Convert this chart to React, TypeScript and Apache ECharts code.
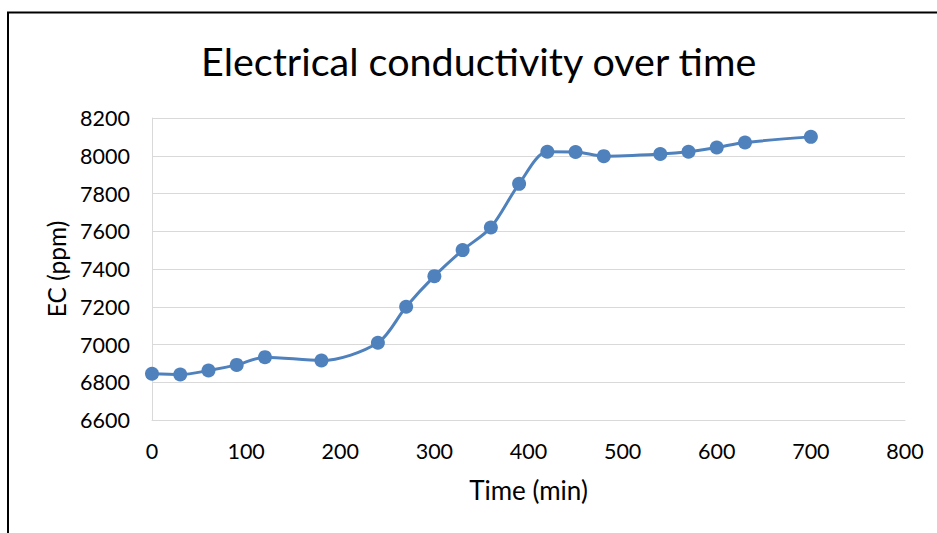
import React, { useEffect, useRef } from "react";
import * as echarts from "echarts";

const timeMin = [0, 30, 60, 90, 120, 180, 240, 270, 300, 330, 360, 390, 420, 450, 480, 540, 570, 600, 630, 700];
const ecPpm = [6845, 6841, 6862, 6892, 6933, 6915, 7009, 7200, 7362, 7500, 7620, 7851, 8021, 8020, 7998, 8009, 8021, 8044, 8070, 8100];

const titleText = "Electrical conductivity over time";
const xName = "Time (min)";
const yName = "EC (ppm)";

export default function App() {
  const ref = useRef<HTMLDivElement>(null);
  useEffect(() => {
    if (!ref.current) return;
    const chart = echarts.init(ref.current, null, { renderer: "svg" });
    const font = "Lato, 'Open Sans', sans-serif";
    chart.setOption({
      animation: false,
      backgroundColor: "#ffffff",
      textStyle: { fontFamily: font },
      title: {
        text: titleText,
        left: 196,
        top: 35,
        textStyle: { fontFamily: font, fontSize: 39.5, fontWeight: "normal", color: "#000" },
      },
      graphic: [
        {
          type: "rect",
          shape: { x: 8, y: 12.5, width: 960, height: 560 },
          style: { fill: "none", stroke: "#000", lineWidth: 2 },
          silent: true,
        },
      ],
      grid: { left: 152, top: 118, right: 32, bottom: 113, containLabel: false },
      xAxis: {
        type: "value",
        min: 0,
        max: 800,
        interval: 100,
        name: xName,
        nameLocation: "middle",
        nameGap: 57,
        nameTextStyle: { fontFamily: font, fontSize: 26, color: "#000" },
        axisLine: { show: true, lineStyle: { color: "#d9d9d9", width: 1 } },
        axisTick: { show: false },
        axisLabel: { fontFamily: font, fontSize: 21.5, color: "#000", margin: 20, formatter: (v: number) => String(v) },
        splitLine: { show: false },
      },
      yAxis: {
        type: "value",
        min: 6600,
        max: 8200,
        interval: 200,
        name: yName,
        nameLocation: "middle",
        nameGap: 80,
        nameRotate: 90,
        nameTextStyle: { fontFamily: font, fontSize: 24.5, color: "#000" },
        axisLine: { show: true, lineStyle: { color: "#d9d9d9", width: 1 } },
        axisTick: { show: false },
        axisLabel: { fontFamily: font, fontSize: 21.5, color: "#000", margin: 22, formatter: (v: number) => String(v) },
        splitLine: { show: true, lineStyle: { color: "#d9d9d9", width: 1 } },
      },
      series: [
        {
          type: "line",
          data: timeMin.map((t, i) => [t, ecPpm[i]]),
          smooth: 0.3,
          symbol: "circle",
          symbolSize: 14,
          lineStyle: { color: "#4f81bd", width: 3 },
          itemStyle: { color: "#4f81bd" },
        },
      ],
    });
    return () => chart.dispose();
  }, []);
  return (
    <div
      ref={ref}
      style={{ position: "fixed", left: 0, top: 0, width: 937, height: 533 }}
    />
  );
}
